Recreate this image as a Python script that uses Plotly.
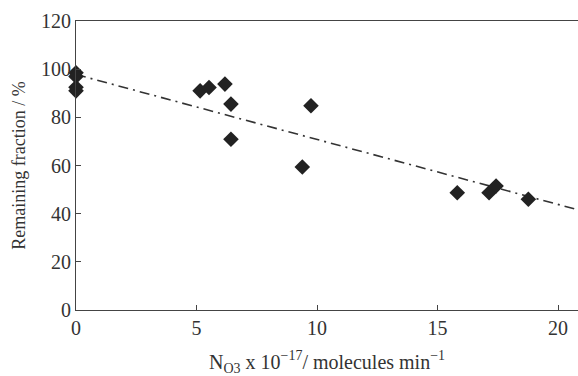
import plotly.graph_objects as go

# data
nx = [0, 0, 0, 0, 5.15, 5.52, 6.18, 6.43, 6.43, 9.39, 9.75, 15.82, 17.14, 17.43, 18.77]
frac = [98.5, 97.0, 92.5, 91.0, 91.0, 92.4, 93.8, 85.5, 70.9, 59.4, 84.8, 48.7, 48.7, 51.5, 46.0]
trend_x = [0, 20.83]
trend_y = [97.8, 41.6]
x_ticks = [0, 5, 10, 15, 20]
y_ticks = [0, 20, 40, 60, 80, 100, 120]

serif = "Liberation Serif"

fig = go.Figure()
fig.add_trace(go.Scatter(
    x=trend_x, y=trend_y, mode="lines",
    line=dict(color="#333333", width=1.6, dash="10px,5px,2px,5px"),
    showlegend=False, hoverinfo="skip"))
fig.add_trace(go.Scatter(
    x=nx, y=frac, mode="markers",
    marker=dict(symbol="diamond", size=12, color="#222222"),
    showlegend=False, cliponaxis=False))

fig.update_layout(
    width=578, height=376,
    margin=dict(l=76, r=0, t=21, b=66),
    paper_bgcolor="white", plot_bgcolor="white",
    font=dict(family=serif, color="#333333", size=20),
    xaxis=dict(
        range=[0, 20.83], tickvals=x_ticks, ticktext=[str(v) for v in x_ticks],
        showline=True, linecolor="#444444", linewidth=1.2, mirror=True,
        ticks="inside", ticklen=5, tickcolor="#444444",
        showgrid=False, zeroline=False, automargin=False,
        tickfont=dict(family=serif, size=20, color="#333333"),
        title=dict(text="N<sub>O3</sub> x 10<sup>−17</sup>/ molecules min<sup>−1</sup>",
                   font=dict(family=serif, size=20, color="#333333"), standoff=19),
    ),
    yaxis=dict(
        range=[0, 120], tickvals=y_ticks, ticktext=[str(v) for v in y_ticks],
        showline=True, linecolor="#444444", linewidth=1.2, mirror=False,
        ticks="inside", ticklen=5, tickcolor="#444444",
        showgrid=False, zeroline=False, automargin=False,
        tickfont=dict(family=serif, size=20, color="#333333"),
        title=dict(text="Remaining fraction / %",
                   font=dict(family=serif, size=18, color="#333333"), standoff=10),
    ),
)

fig.write_html("out.html", config={"displayModeBar": False},
               post_script="document.body.style.margin='0';document.body.style.overflow='hidden';")
